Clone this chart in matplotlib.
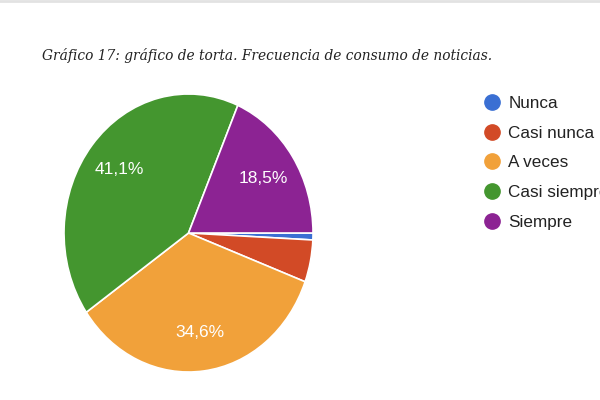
import matplotlib.pyplot as plt
from matplotlib.lines import Line2D

labels = ['Nunca', 'Casi nunca', 'A veces', 'Casi siempre', 'Siempre']
values = [0.8, 4.9, 34.6, 41.1, 18.5]
colors = ['#3a6fd3', '#d24a26', '#f1a13a', '#44962f', '#8c2393']
title = 'Gráfico 17: gráfico de torta. Frecuencia de consumo de noticias.'

fig = plt.figure(figsize=(6, 4), dpi=100)
fig.patch.set_facecolor('white')

# thin grey rule at the very top
fig.add_artist(Line2D([0, 1], [0.997, 0.997], color='#e2e2e2', lw=2))

fig.text(0.07, 0.862, title, family='DejaVu Serif', style='italic',
         fontsize=9.95, color='#222222', va='center')

ax = fig.add_axes([0.1067, 0.07, 0.415, 0.695])
wedges, texts, autotexts = ax.pie(
    values, colors=colors, startangle=0, counterclock=False,
    autopct=lambda p: f'{p:.1f}%'.replace('.', ',') if p >= 5 else '',
    pctdistance=0.72, wedgeprops=dict(edgecolor='white', linewidth=1.2),
    textprops=dict(color='white', fontsize=12.5, family='Liberation Sans'))
ax.set_xlim(-1.0, 1.0)
ax.set_ylim(-1.0, 1.0)
ax.set_aspect('auto')
ax.axis('off')

handles = [Line2D([], [], marker='o', linestyle='', color=c, markersize=11)
           for c in colors]
fig.legend(handles, labels, loc='upper left', bbox_to_anchor=(0.806, 0.76),
           frameon=False, handlelength=1.0, handletextpad=0.45,
           labelspacing=0.86, borderpad=0, borderaxespad=0,
           prop=dict(family='Liberation Sans', size=12.3), labelcolor='#222222')

fig.savefig('out.png', dpi=100, facecolor='white')
